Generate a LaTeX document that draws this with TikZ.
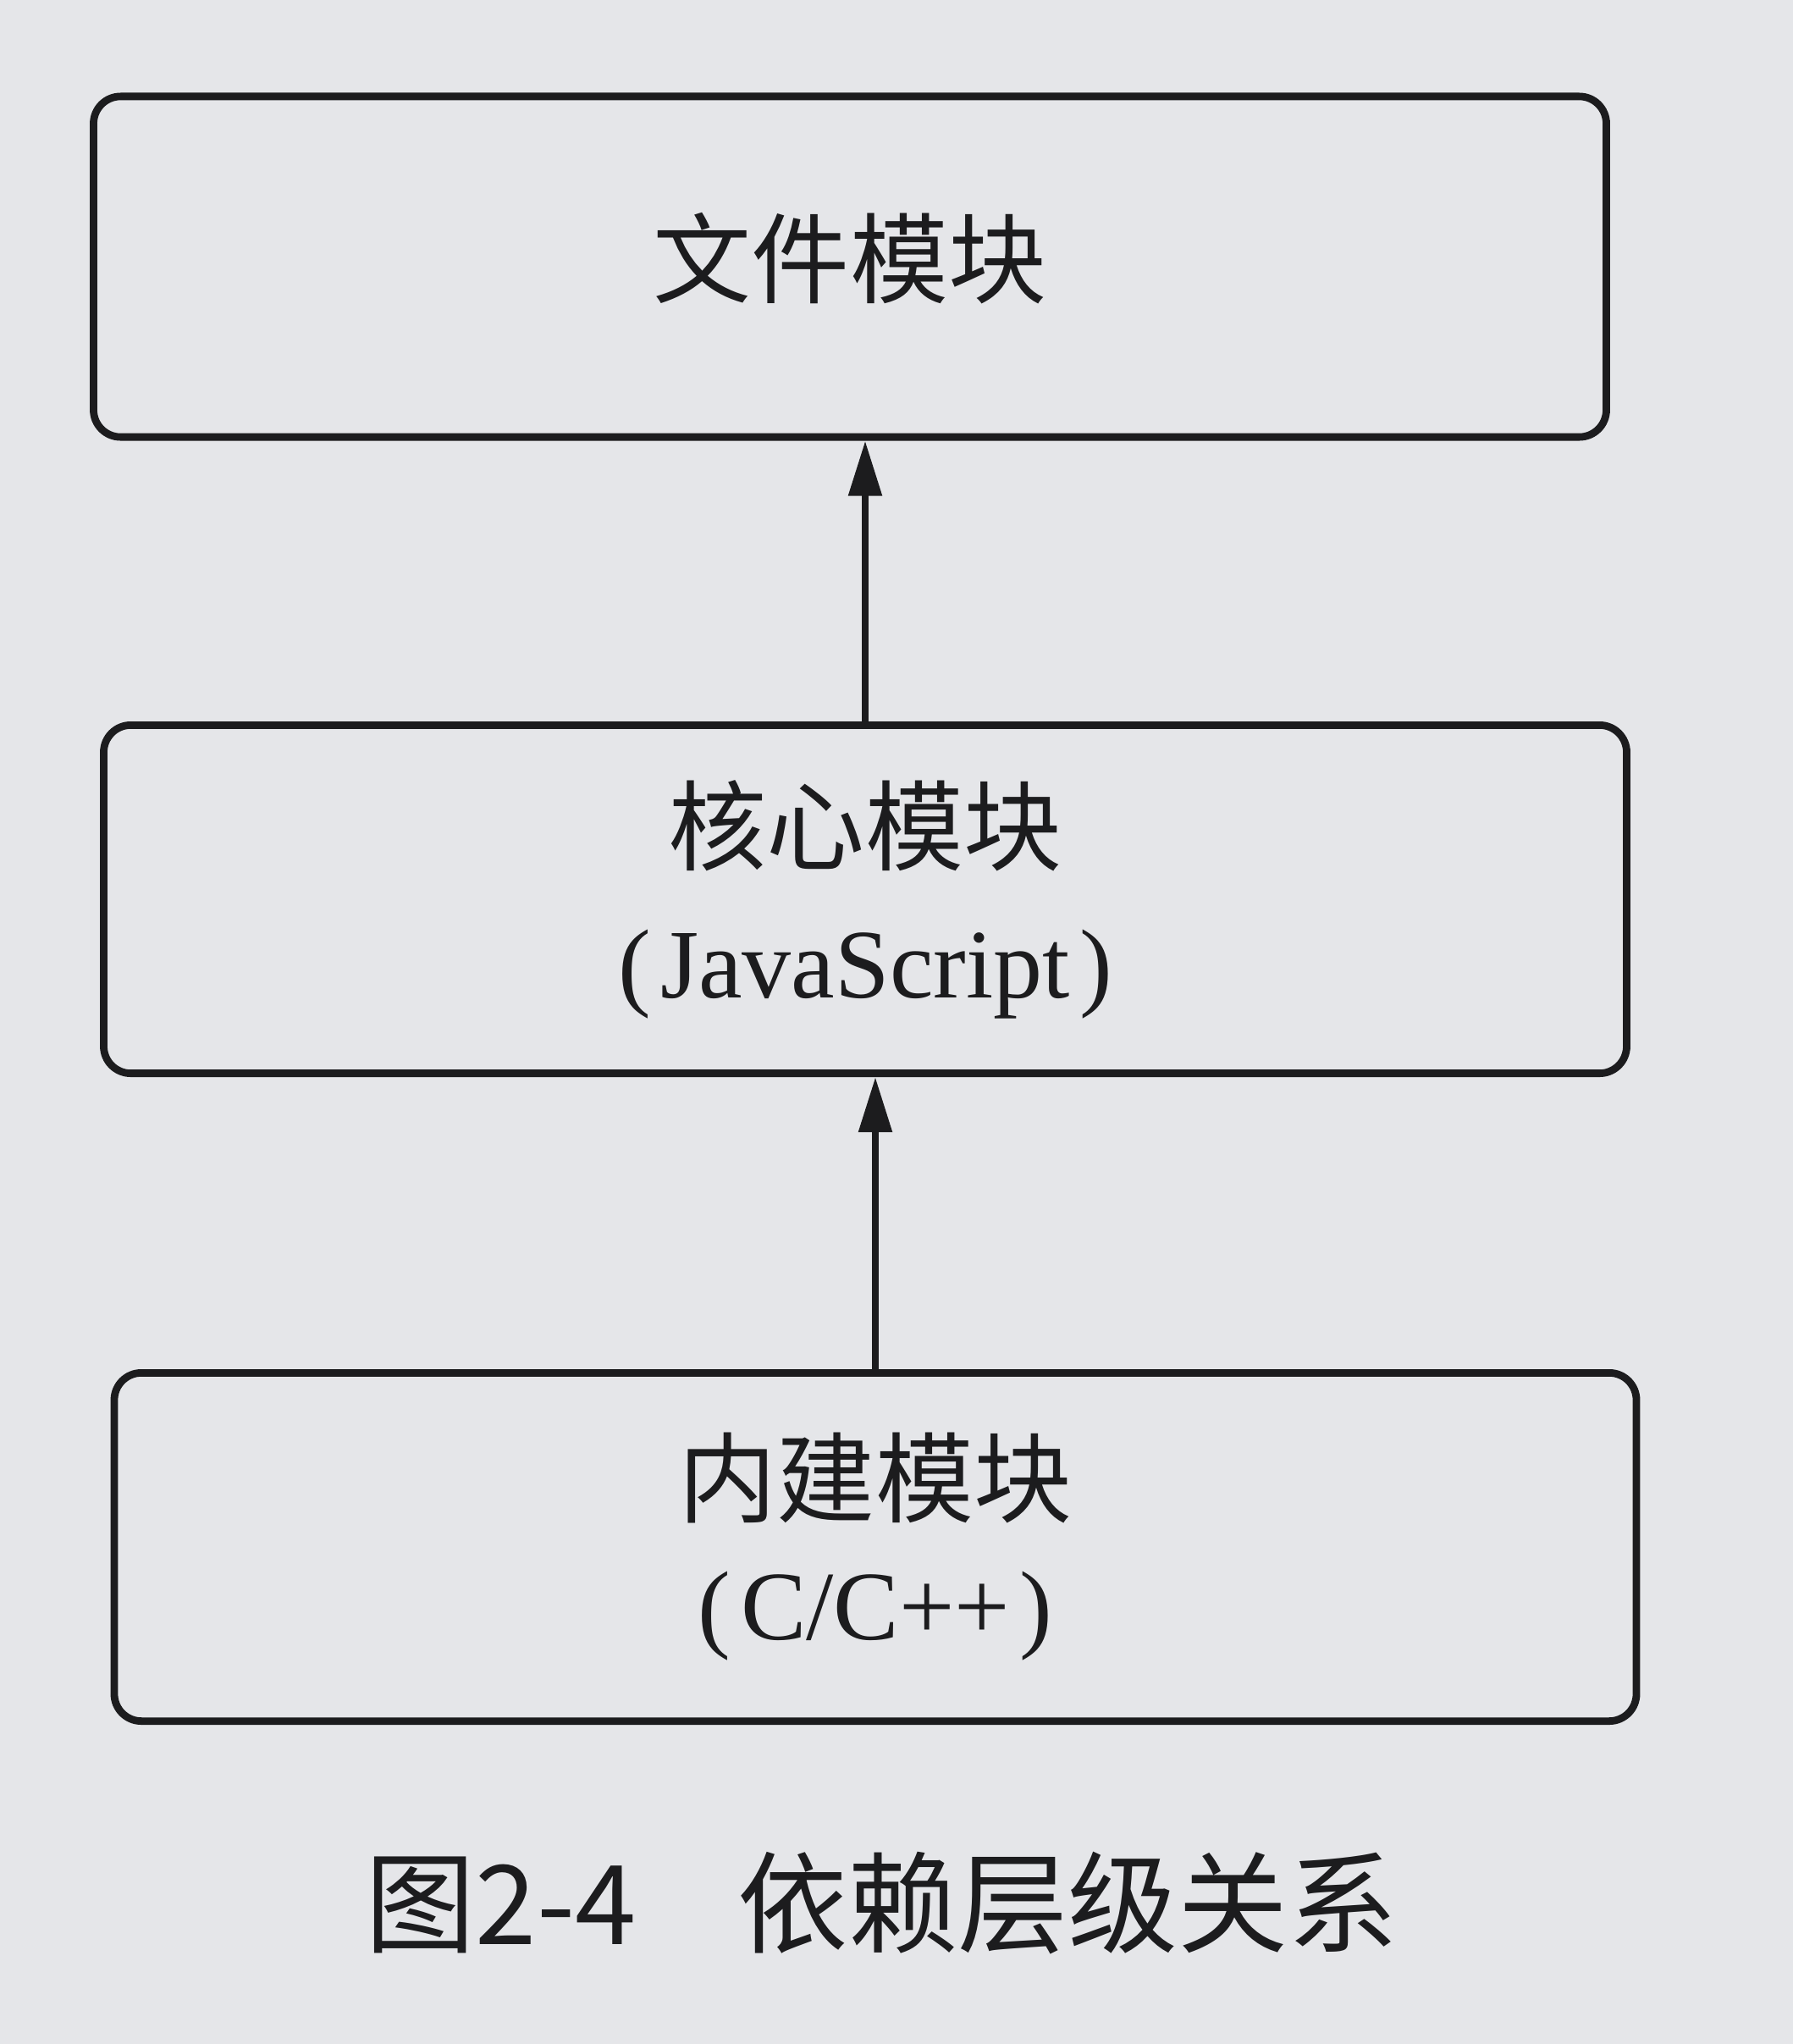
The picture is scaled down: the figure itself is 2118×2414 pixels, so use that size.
\documentclass[tikz,border=0pt]{standalone}
\usepackage{fontspec}
\setmainfont{Liberation Serif}
\newfontfamily\cjk{Noto Sans CJK SC}
\usetikzlibrary{arrows.meta}
\definecolor{ink}{RGB}{28,28,30}
\definecolor{paper}{RGB}{229,230,233}
\begin{document}
\begin{tikzpicture}[x=0.01cm,y=-0.01cm,
  box/.style={draw=ink, line width=2.5pt, rounded corners=0.32cm, align=center,
    text=ink, inner sep=0pt, font=\fontsize{33}{39}\selectfont},
  arr/.style={draw=ink, line width=2.4pt, -{Triangle[length=0.65cm,width=0.38cm]}},
  captxt/.style={text=ink, inner sep=0pt, font=\cjk\fontsize{37}{40}\selectfont}]
  \fill[paper] (0,0) rectangle (2118,2414);
  \useasboundingbox (0,0) rectangle (2118,2414);
  \node[box, minimum width=17.86cm, minimum height=4.02cm] (b1) at (1004,315)
    {\raisebox{0.3cm}{\cjk 文件模块}};
  \node[box, minimum width=17.98cm, minimum height=4.11cm] (b2) at (1022,1062)
    {\raisebox{0.12cm}{\cjk 核心模块}\\[0.1cm](\hspace{0.1em}JavaScript\hspace{0.1em})};
  \node[box, minimum width=17.97cm, minimum height=4.11cm] (b3) at (1034,1827)
    {{\cjk 内建模块}\\[0.1cm](\hspace{0.1em}C/C++\hspace{0.1em})};
  \draw[arr] (b2.north) -- (b2.north |- b1.south);
  \draw[arr] (b3.north) -- (b3.north |- b2.south);
  \node[captxt, anchor=west] (caption) at (431,2248) {图2-4\hspace{1.2cm}依赖层级关系};
\end{tikzpicture}
\end{document}
